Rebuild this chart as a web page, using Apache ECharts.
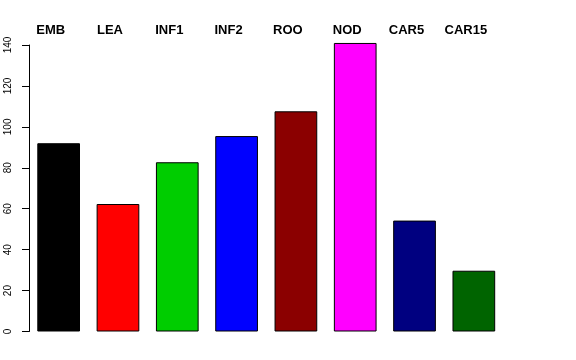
<!DOCTYPE html>
<html>
<head>
<meta charset="utf-8">
<script src="https://cdn.jsdelivr.net/npm/echarts@6/dist/echarts.min.js"></script>
<style>html,body{margin:0;padding:0;background:#fff}#c{width:576px;height:360px}</style>
</head>
<body>
<div id="c"></div>
<script>
var categories = ["EMB", "LEA", "INF1", "INF2", "ROO", "NOD", "CAR5", "CAR15"];
var values = [92.0, 62.3, 82.7, 95.5, 107.6, 141.0, 54.2, 29.7];
var barColors = ["#000000", "#FF0000", "#00CD00", "#0000FF", "#8B0000", "#FF00FF", "#000080", "#006400"];
var yTicks = [0, 20, 40, 60, 80, 100, 120, 140];

var chart = echarts.init(document.getElementById('c'), null, {renderer: 'canvas'});
chart.setOption({
  animation: false,
  backgroundColor: '#fff',
  grid: {left: 29, right: 72.5, top: 45, bottom: 28.5, containLabel: false},
  xAxis: {
    type: 'category',
    data: categories,
    position: 'top',
    axisLine: {show: false},
    axisTick: {show: false},
    axisLabel: {
      margin: 8,
      fontFamily: 'Liberation Sans, Arial, sans-serif',
      fontWeight: 'bold',
      fontSize: 13,
      color: '#000',
      padding: [0, 16, 0, 0]
    },
    splitLine: {show: false}
  },
  yAxis: {
    type: 'value',
    min: yTicks[0],
    max: yTicks[yTicks.length - 1],
    interval: 20,
    axisLine: {show: true, lineStyle: {color: '#000', width: 1}},
    axisTick: {show: true, length: 7, lineStyle: {color: '#000', width: 1}},
    axisLabel: {
      rotate: 90,
      margin: 16,
      fontFamily: 'Liberation Sans, Arial, sans-serif',
      fontSize: 10,
      color: '#000'
    },
    splitLine: {show: false}
  },
  series: [{
    type: 'bar',
    clip: false,
    barWidth: '72%',
    data: values.map(function (v, i) {
      return {value: v, itemStyle: {color: barColors[i], borderColor: '#000', borderWidth: 1}};
    })
  }]
});
</script>
</body>
</html>
